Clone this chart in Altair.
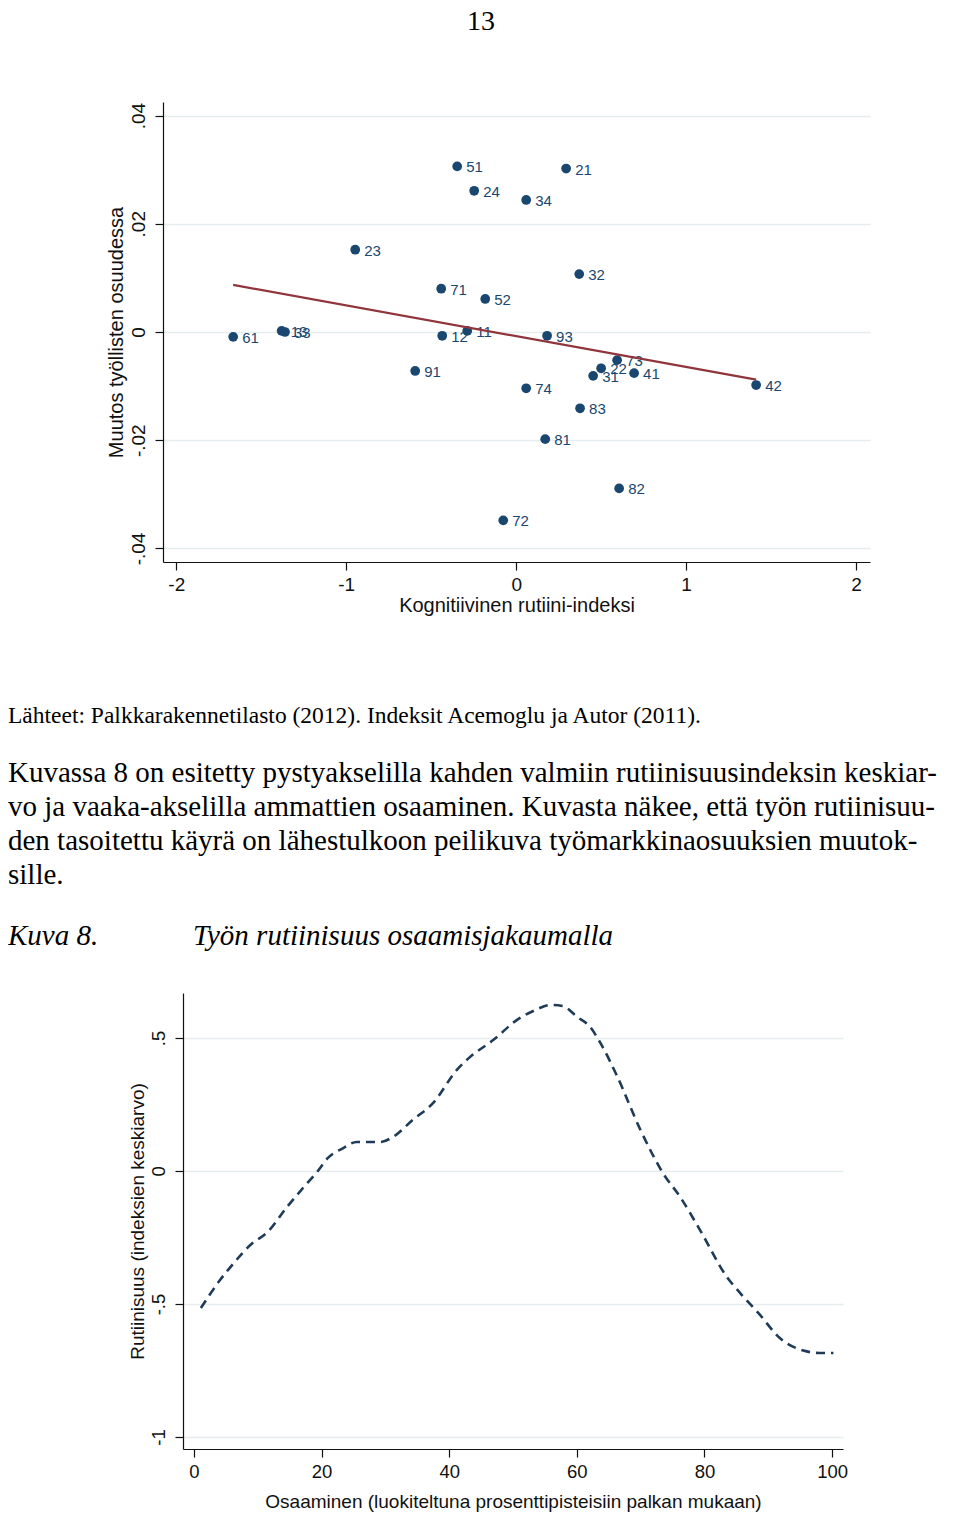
import altair as alt
import pandas as pd

# ---------------- data: figure 7 (scatter) ----------------
OCC_CODES = ["61", "13", "33", "23", "51", "24", "34", "21", "71", "52", "32", "12", "11",
             "93", "91", "74", "73", "22", "31", "41", "42", "83", "81", "82", "72"]
ROUTINE_INDEX = [-1.665, -1.38, -1.36, -0.947, -0.347, -0.247, 0.059, 0.294, -0.441, -0.182,
                 0.371, -0.435, -0.288, 0.182, -0.594, 0.059, 0.594, 0.50, 0.453, 0.694,
                 1.412, 0.376, 0.171, 0.606, -0.076]
SHARE_CHANGE = [-0.0009, 0.0002, 0.0, 0.0152, 0.0306, 0.0261, 0.0244, 0.0302, 0.0080, 0.0061,
                0.0107, -0.0007, 0.0002, -0.0007, -0.0072, -0.0104, -0.0052, -0.0067, -0.0081,
                -0.0076, -0.0098, -0.0141, -0.0198, -0.0289, -0.0348]
FIT_X = [-1.665, 1.412]
FIT_Y = [0.0087, -0.0088]
TOP_X_TICKS = [-2, -1, 0, 1, 2]
TOP_Y_TICKS = [-0.04, -0.02, 0, 0.02, 0.04]

# ---------------- data: figure 8 (smoothed curve) ----------------
SKILL_PCT = [1.1, 4.1, 5.6, 9.2, 11.4, 14.6, 17.1, 19.3, 21.0, 23.4, 25.5, 29.2, 31.2, 34.3,
             37.5, 41.2, 43.3, 46.9, 50.8, 53.5, 55.8, 57.8, 60.0, 62.1, 63.6, 66.3, 69.9,
             73.5, 76.2, 79.3, 83.5, 85.6, 88.7, 91.8, 95.5, 98.0, 100.2]
ROUTINE_MEAN = [-0.515, -0.41, -0.365, -0.271, -0.233, -0.135, -0.064, -0.004, 0.049, 0.086,
                0.109, 0.109, 0.128, 0.192, 0.256, 0.38, 0.429, 0.492, 0.571, 0.605, 0.624,
                0.62, 0.58, 0.541, 0.485, 0.357, 0.158, -0.008, -0.098, -0.222, -0.398,
                -0.459, -0.541, -0.628, -0.675, -0.684, -0.684]
BOT_X_TICKS = [0, 20, 40, 60, 80, 100]
BOT_Y_TICKS = [-1, -0.5, 0, 0.5]

# ---------------- page text ----------------
PAGE_NUMBER = ["13"]
SOURCE = ["Lähteet: Palkkarakennetilasto (2012). Indeksit Acemoglu ja Autor (2011)."]
PARAGRAPH = [
    "Kuvassa 8 on esitetty pystyakselilla kahden valmiin rutiinisuusindeksin keskiar-",
    "vo ja vaaka-akselilla ammattien osaaminen. Kuvasta näkee, että työn rutiinisuu-",
    "den tasoitettu käyrä on lähestulkoon peilikuva työmarkkinaosuuksien muutok-",
    "sille.",
]
CAPTION_LABEL = ["Kuva 8."]
CAPTION_TITLE = ["Työn rutiinisuus osaamisjakaumalla"]

TOP_X_TITLE = "Kognitiivinen rutiini-indeksi"
TOP_Y_TITLE = "Muutos työllisten osuudessa"
BOT_X_TITLE = "Osaaminen (luokiteltuna prosenttipisteisiin palkan mukaan)"
BOT_Y_TITLE = "Rutiinisuus (indeksien keskiarvo)"

SANS = "Liberation Sans"
SERIF = "Liberation Serif"
NAVY = "#1a476f"
MAROON = "#90353b"
GRID = "#e6edf0"
INK = "#111111"

# layout (pixels inside the page)
TOP_LEFT, TOP_W, TOP_H = 155, 707, 460
BOT_LEFT, BOT_W, BOT_H = 175, 660, 456
PAGE_W = 944


def axis_common(**kw):
    base = dict(domainColor=INK, domainWidth=1.2, tickColor=INK, tickWidth=1.2, tickSize=8,
                labelFont=SANS, labelColor=INK, titleFont=SANS, titleColor=INK,
                titleFontWeight="normal")
    base.update(kw)
    return alt.Axis(**base)


# ---------------- top chart ----------------
scatter_df = pd.DataFrame({"code": OCC_CODES, "x": ROUTINE_INDEX, "y": SHARE_CHANGE})
fit_df = pd.DataFrame({"x": FIT_X, "y": FIT_Y})

tx = alt.X("x:Q", scale=alt.Scale(domain=[-2.078, 2.082], nice=False, zero=False,
                                  range=[TOP_LEFT, TOP_LEFT + TOP_W]),
           axis=axis_common(values=TOP_X_TICKS, title=TOP_X_TITLE, grid=False,
                            labelFontSize=19, titleFontSize=20, labelPadding=5,
                            titlePadding=1, labelExpr="toString(datum.value)"))
ty = alt.Y("y:Q", scale=alt.Scale(domain=[-0.0425, 0.0425], nice=False, zero=False),
           axis=axis_common(values=TOP_Y_TICKS, title=TOP_Y_TITLE, grid=True, gridColor=GRID,
                            gridWidth=1.3, labelFontSize=19, titleFontSize=20,
                            labelAngle=270, labelAlign="center", labelBaseline="bottom",
                            labelPadding=7, titlePadding=3, offset=-TOP_LEFT,
                            labelExpr="replace(toString(datum.value), '0.', '.')"))

points = alt.Chart(scatter_df).mark_circle(size=95, color=NAVY, opacity=1).encode(x=tx, y=ty)
labels = alt.Chart(scatter_df).mark_text(align="left", baseline="middle", dx=9, dy=1,
                                         font=SANS, fontSize=15, color=NAVY).encode(
    x="x:Q", y="y:Q", text="code:N")
fit = alt.Chart(fit_df).mark_line(color=MAROON, strokeWidth=2.2).encode(x="x:Q", y="y:Q")
top_chart = alt.layer(points, labels, fit).properties(width=TOP_LEFT + TOP_W, height=TOP_H)

# ---------------- bottom chart ----------------
curve_df = pd.DataFrame({"x": SKILL_PCT, "y": ROUTINE_MEAN})
bx = alt.X("x:Q", scale=alt.Scale(domain=[-1.7, 101.7], nice=False, zero=False,
                                  range=[BOT_LEFT, BOT_LEFT + BOT_W]),
           axis=axis_common(values=BOT_X_TICKS, title=BOT_X_TITLE, grid=False,
                            labelFontSize=18.5, titleFontSize=19, labelPadding=5,
                            titlePadding=12))
by = alt.Y("y:Q", scale=alt.Scale(domain=[-1.045, 0.669], nice=False, zero=False),
           axis=axis_common(values=BOT_Y_TICKS, title=BOT_Y_TITLE, grid=True, gridColor=GRID,
                            gridWidth=1.3, labelFontSize=18.5, titleFontSize=19,
                            labelAngle=270, labelAlign="center", labelBaseline="bottom",
                            labelPadding=7, titlePadding=2, offset=-BOT_LEFT,
                            labelExpr="replace(toString(datum.value), '0.', '.')"))
bottom_chart = alt.Chart(curve_df).mark_line(
    color="#1f3b57", strokeWidth=2.6, strokeDash=[9, 6], interpolate="monotone"
).encode(x=bx, y=by).properties(width=BOT_LEFT + BOT_W, height=BOT_H)

# ---------------- page-number panel ----------------
page_panel = alt.Chart(pd.DataFrame({"t": PAGE_NUMBER})).mark_text(
    font=SERIF, fontSize=28, align="center", baseline="top", color="black"
).encode(text="t:N", x=alt.value(473), y=alt.value(0)).properties(width=PAGE_W, height=94)

# ---------------- text panel ----------------
src = alt.Chart(pd.DataFrame({"t": SOURCE})).mark_text(
    font=SERIF, fontSize=23.5, align="left", baseline="alphabetic", color="black"
).encode(text="t:N", x=alt.value(0), y=alt.value(161))

para_df = pd.DataFrame({"t": PARAGRAPH, "line": list(range(len(PARAGRAPH)))})
para = alt.Chart(para_df).mark_text(
    font=SERIF, fontSize=29, align="left", baseline="alphabetic", color="black"
).encode(text="t:N", x=alt.value(0),
         y=alt.Y("line:Q", scale=alt.Scale(domain=[0, 3], range=[220, 322]), axis=None))

cap1 = alt.Chart(pd.DataFrame({"t": CAPTION_LABEL})).mark_text(
    font=SERIF, fontSize=29, fontStyle="italic", align="left", baseline="alphabetic",
    color="black"
).encode(text="t:N", x=alt.value(0), y=alt.value(383))
cap2 = alt.Chart(pd.DataFrame({"t": CAPTION_TITLE})).mark_text(
    font=SERIF, fontSize=29, fontStyle="italic", align="left", baseline="alphabetic",
    color="black"
).encode(text="t:N", x=alt.value(185), y=alt.value(383))

text_panel = alt.layer(src, para, cap1, cap2).properties(width=PAGE_W, height=431)

# ---------------- page layout ----------------
chart = alt.vconcat(page_panel, top_chart, text_panel, bottom_chart, spacing=0, bounds="flush"
                    ).properties(padding=0, background="white"
                    ).configure_view(stroke=None)

chart.save("out.html", embed_options={"renderer": "svg", "actions": False})
